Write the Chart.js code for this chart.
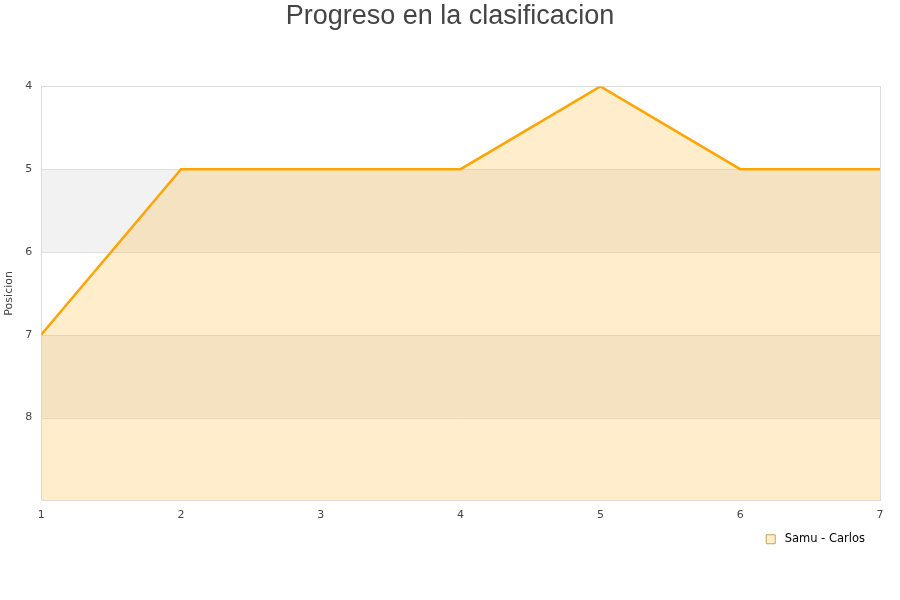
<!DOCTYPE html>
<html>
<head>
<meta charset="utf-8">
<script src="https://cdn.jsdelivr.net/npm/chart.js@4/dist/chart.umd.min.js"></script>
<style>
  html, body { margin: 0; padding: 0; background: #fff; }
  #chart { display: block; }
</style>
</head>
<body>
<canvas id="chart" width="900" height="600"></canvas>
<script>
const jornadas = [1, 2, 3, 4, 5, 6, 7];
const posiciones = [7, 5, 5, 5, 4, 5, 5];
const serieNombre = "Samu - Carlos";
const bandas = [[5, 6], [7, 8]];

// alternating grey bands + border around the plot
const bandsPlugin = {
    id: "bands",
    beforeDatasetsDraw(chart) {
        const { ctx, chartArea, scales } = chart;
        ctx.save();
        ctx.fillStyle = "#f2f2f2";
        bandas.forEach(([a, b]) => {
            const y1 = scales.y.getPixelForValue(a);
            const y2 = scales.y.getPixelForValue(b);
            ctx.fillRect(chartArea.left, y1, chartArea.right - chartArea.left, y2 - y1);
        });
        ctx.strokeStyle = "#e0e0e0";
        ctx.lineWidth = 1;
        [5, 6, 7, 8].forEach(v => {
            const y = Math.round(scales.y.getPixelForValue(v)) + 0.5;
            ctx.beginPath();
            ctx.moveTo(chartArea.left, y);
            ctx.lineTo(chartArea.right, y);
            ctx.stroke();
        });
        ctx.strokeStyle = "#dcdcdc";
        ctx.strokeRect(Math.round(chartArea.left) + 0.5, Math.round(chartArea.top) + 0.5,
            Math.round(chartArea.right - chartArea.left), Math.round(chartArea.bottom - chartArea.top));
        ctx.restore();
    }
};

new Chart(document.getElementById("chart"), {
    type: "line",
    data: {
        datasets: [{
            label: serieNombre,
            data: jornadas.map((j, i) => ({ x: j, y: posiciones[i] })),
            borderColor: "#ffa500",
            backgroundColor: "rgba(255, 165, 0, 0.2)",
            borderWidth: 2.5,
            tension: 0,
            fill: { value: 9 },
            pointRadius: 0
        }]
    },
    options: {
        responsive: false,
        animation: false,
        layout: { padding: { left: 0, right: 0, top: 0, bottom: 45 } },
        plugins: {
            title: {
                display: true,
                text: "Progreso en la clasificacion",
                color: "#444",
                font: { family: "Liberation Sans, Arial, sans-serif", size: 27, weight: "normal" },
                padding: { top: 0, bottom: 54 }
            },
            legend: {
                position: "bottom",
                align: "end",
                labels: {
                    boxWidth: 9,
                    boxHeight: 9,
                    padding: 4,
                    color: "#000",
                    font: { family: "DejaVu Sans", size: 11.5 },
                    generateLabels(chart) {
                        return [{
                            text: " " + serieNombre + "\u2003\u2003\u2002\u2009",
                            fillStyle: "rgba(255, 165, 0, 0.2)",
                            strokeStyle: "#c8a060",
                            lineWidth: 1,
                            datasetIndex: 0
                        }];
                    }
                }
            },
            tooltip: { enabled: false }
        },
        scales: {
            x: {
                type: "linear",
                min: 1,
                max: 7,
                grid: { display: false, drawTicks: false, tickLength: 0 },
                border: { display: false },
                ticks: {
                    stepSize: 1,
                    padding: 8,
                    color: "#444",
                    font: { family: "DejaVu Sans", size: 11 }
                }
            },
            y: {
                min: 4,
                max: 9,
                reverse: true,
                grid: { display: false, drawTicks: false, tickLength: 0 },
                border: { display: false },
                title: {
                    display: true,
                    text: "Posicion",
                    color: "#444",
                    padding: { top: 3, bottom: 0 },
                    font: { family: "DejaVu Sans", size: 11 }
                },
                ticks: {
                    stepSize: 1,
                    color: "#444",
                    padding: 9,
                    font: { family: "DejaVu Sans", size: 11 },
                    callback: function(value) {
                        return value === 9 ? "" : value;
                    }
                }
            },
            // empty axis on the right, keeps the title centred on the page
            yRight: {
                position: "right",
                display: true,
                grid: { display: false, drawTicks: false },
                border: { display: false },
                ticks: { display: false },
                afterFit(scale) { scale.width = 20; }
            }
        }
    },
    plugins: [bandsPlugin]
});
</script>
</body>
</html>
